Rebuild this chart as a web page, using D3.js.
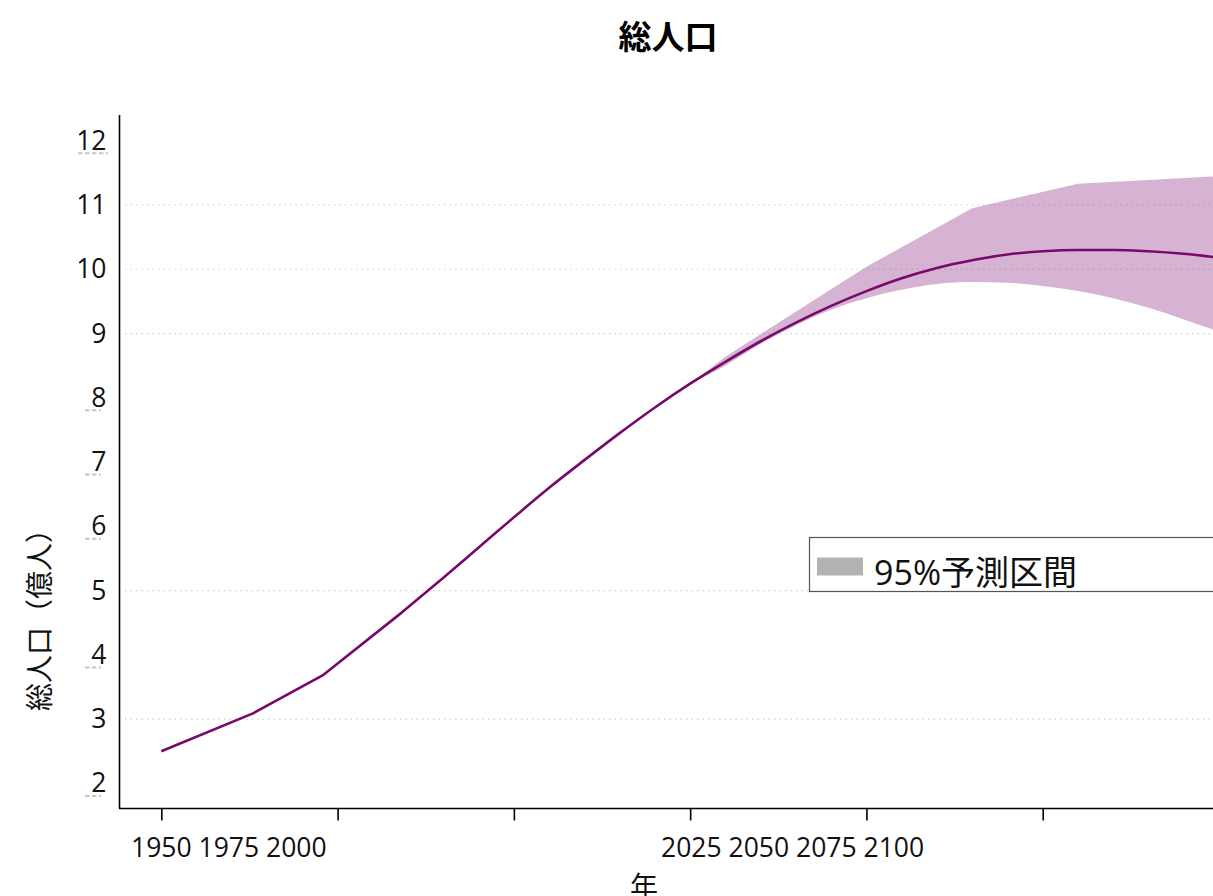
<!DOCTYPE html>
<html>
<head>
<meta charset="utf-8">
<script src="https://cdn.jsdelivr.net/npm/d3@7/dist/d3.min.js"></script>
<style>
  html, body { margin: 0; padding: 0; background: #fff; overflow: hidden; }
  svg { display: block; font-family: "Open Sans", "Noto Sans CJK JP", sans-serif; }
</style>
</head>
<body>
<svg id="chart" width="1213" height="896"></svg>
<script>
// World population (billions): estimates and median projection
const lineYears  = [1950, 1963, 1973, 1984, 1990, 1995, 2000, 2005, 2010, 2015, 2020, 2025,
                    2030, 2035, 2040, 2045, 2050, 2055, 2060, 2065, 2070, 2075, 2080, 2085,
                    2090, 2095, 2100];
const lineValues = [2.50, 3.09, 3.69, 4.65, 5.20, 5.67, 6.14, 6.60, 7.03, 7.45, 7.85, 8.22,
                    8.56, 8.88, 9.17, 9.43, 9.66, 9.86, 10.02, 10.14, 10.23, 10.28, 10.30, 10.30,
                    10.28, 10.24, 10.18];
// the early estimates are joined with straight segments, later years with a smooth curve
const straightUntil = 1984;

// 95% prediction interval
const upperYears  = [2025, 2030, 2050, 2065, 2080, 2100];
const upperValues = [8.22, 8.64, 10.04, 10.95, 11.33, 11.45];
const lowerYears  = [2025, 2030, 2035, 2040, 2045, 2050, 2055, 2060, 2065, 2070, 2075, 2080,
                     2085, 2090, 2095, 2100];
const lowerValues = [8.22, 8.50, 8.84, 9.13, 9.37, 9.55, 9.68, 9.77, 9.80, 9.79, 9.74, 9.66,
                     9.55, 9.40, 9.22, 9.03];

const xTickYears   = [1950, 1975, 2000, 2025, 2050, 2075, 2100];
const xLabelGroups = [["1950", "1975", "2000"], ["2025", "2050", "2075", "2100"]];
const yTicks       = [2, 3, 4, 5, 6, 7, 8, 9, 10, 11, 12];
const gridValues   = [3, 5, 9, 10, 11];

const titleText  = "総人口";
const xTitle     = "年";
const yTitle     = "総人口（億人）";
const legendText = "95%予測区間";

const svg = d3.select("#chart");

const x = d3.scaleLinear().domain([1944, 2100]).range([119, 1219]);
const y = d3.scaleLinear().domain([1.61, 12.4]).range([808.5, 115]);

// dotted horizontal gridlines
svg.append("g").selectAll("line")
  .data(gridValues).join("line")
  .attr("x1", 125).attr("x2", 1213)
  .attr("y1", d => y(d)).attr("y2", d => y(d))
  .attr("stroke", "#cfcfcf").attr("stroke-width", 1.2)
  .attr("stroke-dasharray", "1.5,4");

// interval band: lower edge forward, upper edge back
const upperPts = upperYears.map((yr, i) => [x(yr), y(upperValues[i])]);
const lowerPts = lowerYears.map((yr, i) => [x(yr), y(lowerValues[i])]);
const lowerPath = d3.line().curve(d3.curveMonotoneX)(lowerPts);
const upperRev = upperPts.slice().reverse();
svg.append("path")
  .attr("d", lowerPath + upperRev.map(p => "L" + p[0] + "," + p[1]).join("") + "Z")
  .attr("fill", "#7b0a6f").attr("fill-opacity", 0.31);

// median line
const linePts = lineYears.map((yr, i) => [yr, lineValues[i]]);
const early = linePts.filter(d => d[0] <= straightUntil);
const late  = linePts.filter(d => d[0] >= straightUntil);
const lineGen = d3.line().x(d => x(d[0])).y(d => y(d[1]));
svg.append("path")
  .attr("d", lineGen.curve(d3.curveLinear)(early) + lineGen.curve(d3.curveMonotoneX)(late).replace(/^M/, "L"))
  .attr("fill", "none").attr("stroke", "#760a6c").attr("stroke-width", 2.6)
  .attr("stroke-linejoin", "round");

// axes
const yAxis = svg.append("g").attr("transform", "translate(119.5,0)")
  .call(d3.axisLeft(y).tickValues(yTicks).tickSize(0).tickPadding(13).tickFormat(d3.format("d")));
yAxis.select(".domain").attr("stroke", "#000").attr("stroke-width", 1.6)
  .attr("d", `M0,${115}V${808.5}`);
yAxis.selectAll(".tick text").attr("font-size", 26.5).attr("fill", "#111")
  .attr("font-family", "Open Sans, sans-serif");

// light dashed marks under labels that carry no gridline
svg.append("g").selectAll("line")
  .data(yTicks.filter(v => !gridValues.includes(v))).join("line")
  .attr("x1", d => d >= 10 ? 78 : 85).attr("x2", d => d >= 10 ? 108 : 101)
  .attr("y1", d => y(d) + 12.5).attr("y2", d => y(d) + 12.5)
  .attr("stroke", "#c6c6c6").attr("stroke-width", 2)
  .attr("stroke-dasharray", "4.5,2.5");

const xAxis = svg.append("g").attr("transform", "translate(0,808.5)")
  .call(d3.axisBottom(x).tickValues(xTickYears).tickSize(12).tickFormat(""));
xAxis.select(".domain").attr("stroke", "#000").attr("stroke-width", 1.6)
  .attr("d", "M119,0H1213");
xAxis.selectAll(".tick line").attr("stroke", "#000").attr("stroke-width", 1.6);

// year labels set as two runs of text
svg.append("text").attr("x", 131).attr("y", 857)
  .attr("font-size", 26.5).attr("fill", "#111")
  .text(xLabelGroups[0].join(" "));
svg.append("text").attr("x", 661).attr("y", 857)
  .attr("font-size", 26.5).attr("fill", "#111")
  .text(xLabelGroups[1].join(" "));

// titles
svg.append("text").attr("x", 668).attr("y", 49).attr("text-anchor", "middle")
  .attr("font-size", 33).attr("font-weight", "bold").attr("fill", "#000")
  .attr("font-family", "Noto Sans CJK JP, sans-serif")
  .text(titleText);
svg.append("text").attr("x", 644).attr("y", 897).attr("text-anchor", "middle")
  .attr("font-size", 28).attr("fill", "#111")
  .attr("font-family", "Noto Sans CJK JP, sans-serif")
  .text(xTitle);
svg.append("text").attr("transform", "translate(50,613) rotate(-90)")
  .attr("text-anchor", "middle").attr("font-size", 28).attr("fill", "#111")
  .attr("font-family", "Noto Sans CJK JP, sans-serif")
  .text(yTitle);

// legend
const lg = svg.append("g");
lg.append("rect").attr("x", 809.5).attr("y", 537.5).attr("width", 420).attr("height", 54)
  .attr("fill", "#fff").attr("stroke", "#555").attr("stroke-width", 1.2);
lg.append("rect").attr("x", 817).attr("y", 557.5).attr("width", 46).attr("height", 18)
  .attr("fill", "#b3b3b3");
lg.append("text").attr("x", 874).attr("y", 585)
  .attr("font-size", 34).attr("fill", "#111")
  .text(legendText);
</script>
</body>
</html>
